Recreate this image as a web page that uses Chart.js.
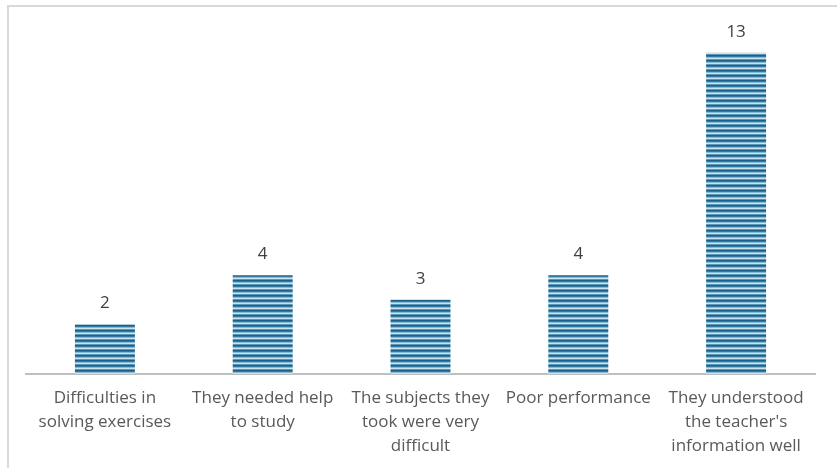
<!DOCTYPE html>
<html>
<head>
<meta charset="utf-8">
<script src="https://cdn.jsdelivr.net/npm/chart.js@4"></script>
<style>
  body { margin: 0; background: #fff; }
  #wrap { position: relative; width: 837px; height: 468px; }
  #frame {
    position: absolute; left: 7px; top: 5px; right: 0; bottom: 0;
    border-left: 2px solid #d9d9d9; border-top: 2px solid #d9d9d9;
    pointer-events: none;
  }
</style>
</head>
<body>
<div id="wrap">
  <canvas id="bars" width="837" height="468"></canvas>
  <div id="frame"></div>
</div>
<script>
const categories = [
  ['Difficulties in', 'solving exercises'],
  ['They needed help', 'to study'],
  ['The subjects they', 'took were very', 'difficult'],
  ['Poor performance'],
  ['They understood', 'the teacher\'s', 'information well']
]
const counts = [2, 4, 3, 4, 13]

// striped fill like the original bars
function stripes() {
  const c = document.createElement('canvas')
  c.width = 8
  c.height = 5
  const g = c.getContext('2d')
  const rows = ['#1d5f86', '#3479a2', '#86bbd6', '#c9e3ef', '#5a97b9']
  rows.forEach((col, i) => {
    g.fillStyle = col
    g.fillRect(0, i, 8, 1)
  })
  return g.createPattern(c, 'repeat')
}

const valueLabels = {
  id: 'valueLabels',
  afterDatasetsDraw(chart) {
    const ctx = chart.ctx
    const meta = chart.getDatasetMeta(0)
    ctx.save()
    ctx.font = '17px "Open Sans"'
    ctx.fillStyle = '#404040'
    ctx.textAlign = 'center'
    ctx.textBaseline = 'middle'
    meta.data.forEach((bar, i) => {
      ctx.fillText(chart.data.datasets[0].data[i], bar.x, bar.y - 21)
    })
    ctx.restore()
  }
}

const ctx = document.getElementById('bars').getContext('2d')

new Chart(ctx, {
  type: 'bar',
  data: {
    labels: categories,
    datasets: [{
      data: counts,
      backgroundColor: stripes(),
      borderWidth: 0,
      categoryPercentage: 1,
      barPercentage: 0.38
    }]
  },
  options: {
    responsive: false,
    animation: false,
    layout: { padding: { left: 26, right: 22, top: 28, bottom: 10 } },
    plugins: {
      legend: { display: false },
      tooltip: { enabled: false }
    },
    scales: {
      x: {
        grid: { display: false, drawTicks: false },
        border: { color: '#bfbfbf', width: 2 },
        ticks: {
          color: '#595959',
          font: { family: 'Open Sans', size: 17, lineHeight: 1.41 },
          padding: 12,
          maxRotation: 0,
          autoSkip: false
        },
        afterFit(scale) {
          scale.height = 84
        }
      },
      y: {
        display: false,
        min: 0,
        max: 14
      }
    }
  },
  plugins: [valueLabels]
});
</script>
</body>
</html>
